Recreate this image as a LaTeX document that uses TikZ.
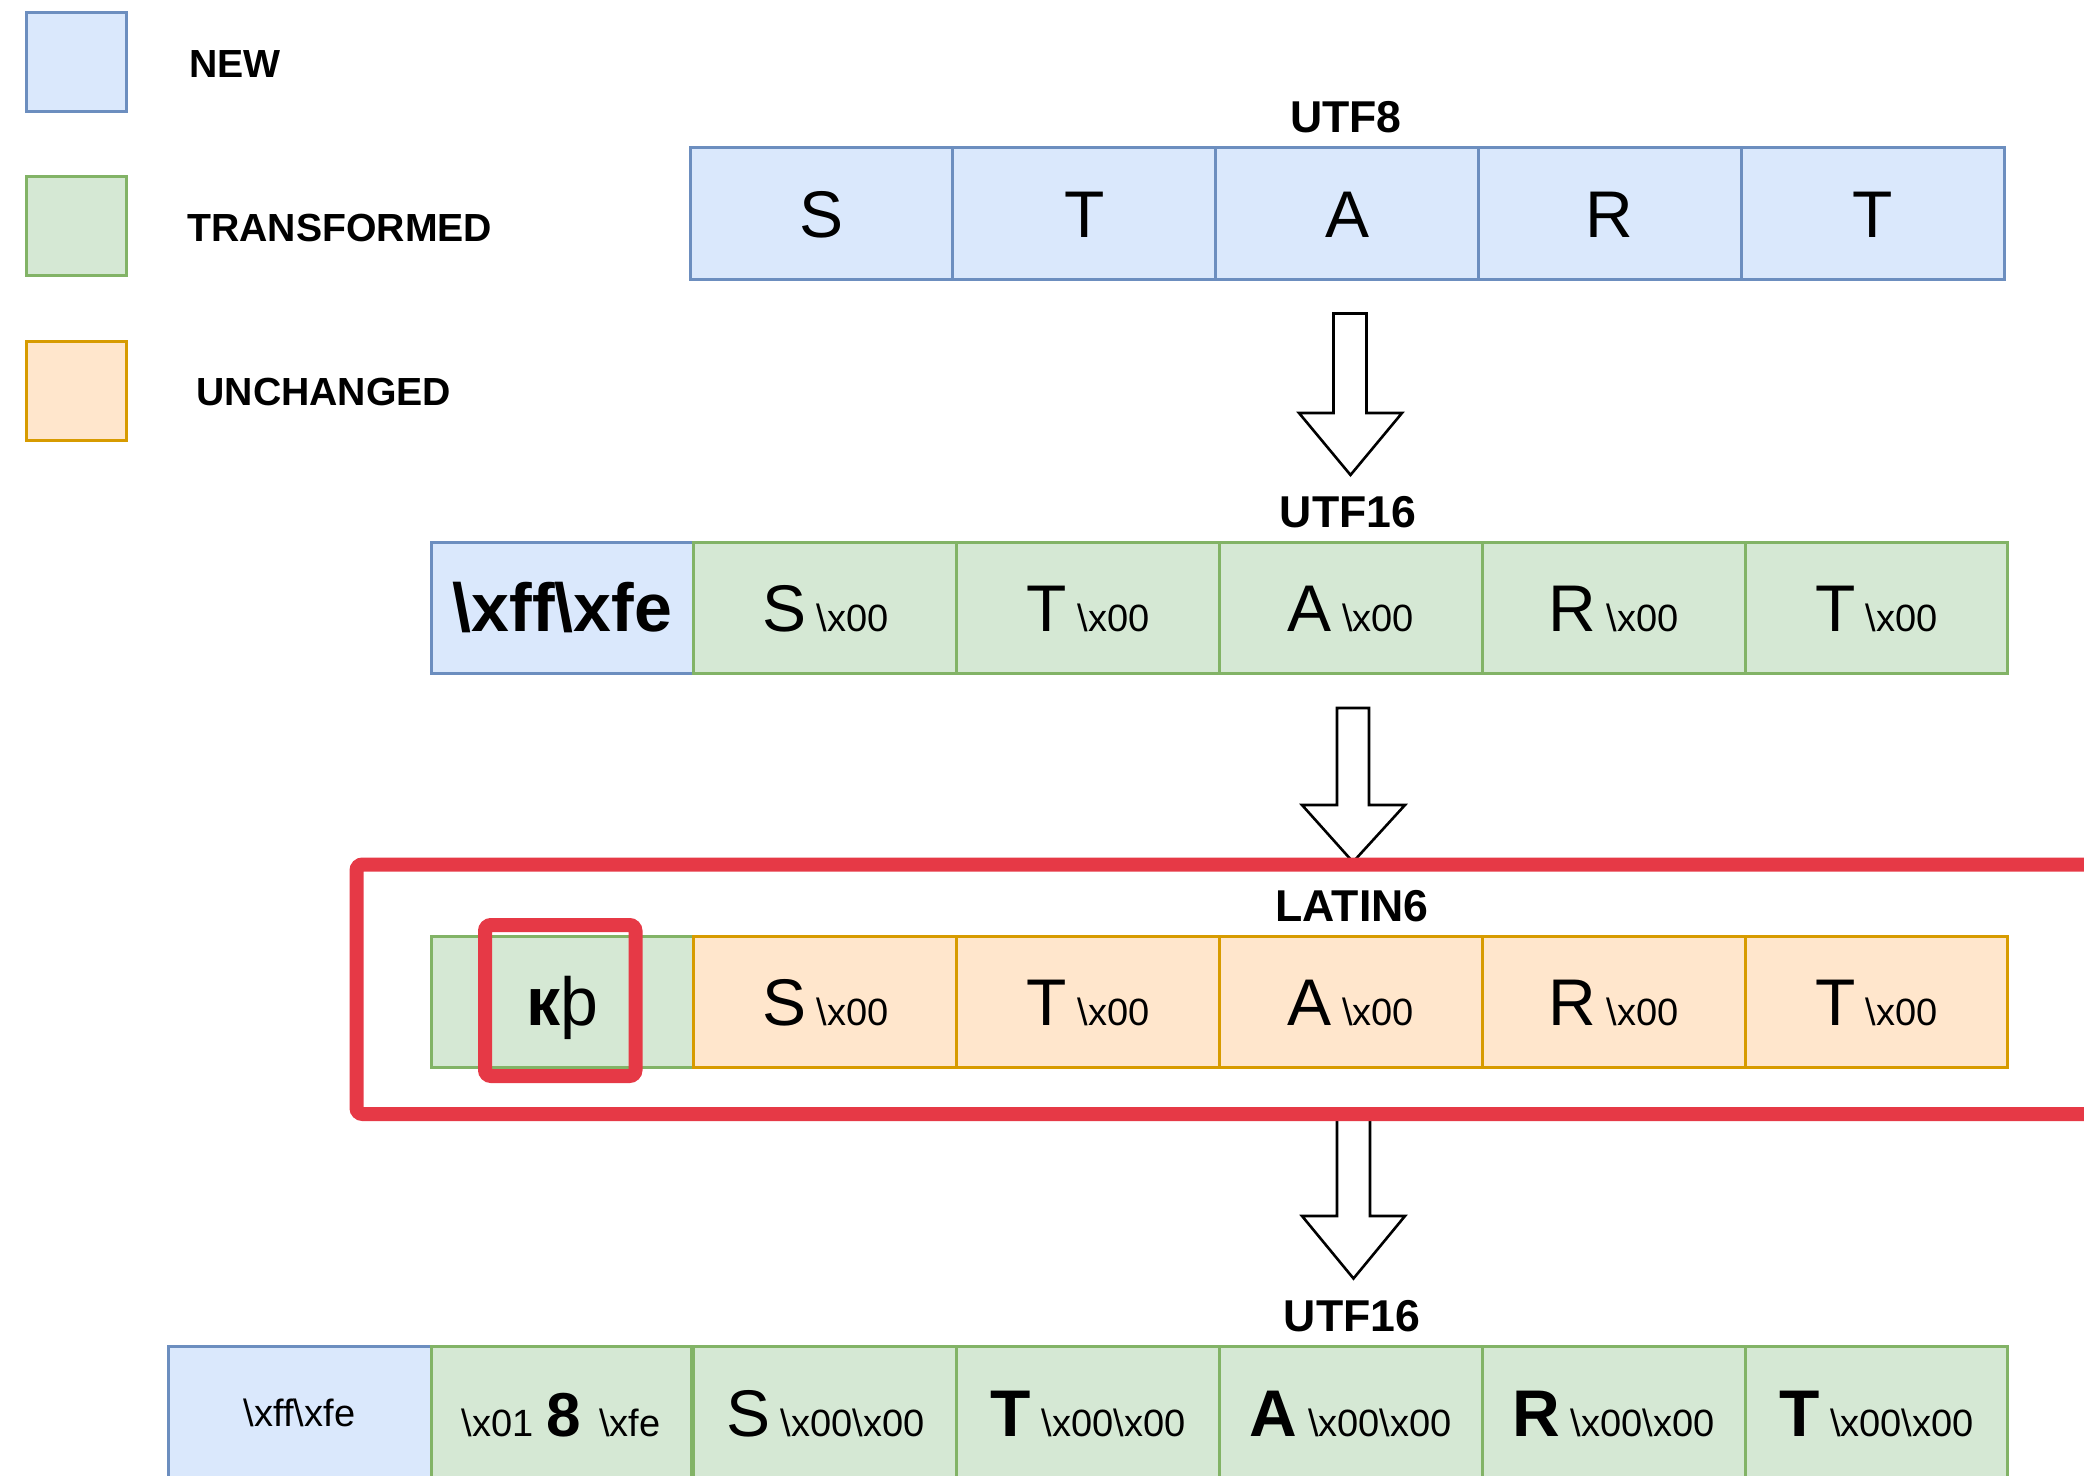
\documentclass[tikz,border=0pt]{standalone}
\usepackage{fontspec}
\setmainfont{Liberation Sans}
\definecolor{bstroke}{HTML}{6C8EBF}
\definecolor{bfill}{HTML}{DAE8FC}
\definecolor{gstroke}{HTML}{82B366}
\definecolor{gfill}{HTML}{D5E8D4}
\definecolor{ostroke}{HTML}{D79B00}
\definecolor{ofill}{HTML}{FFE6CC}
\definecolor{redc}{HTML}{E63946}
\newcommand\szBig{\fontsize{33}{36}\selectfont\mdseries}
\newcommand\szBigB{\fontsize{33}{36}\selectfont\bfseries}
\newcommand\szSm{\fontsize{19}{22}\selectfont\mdseries}
\newcommand\szHex{\fontsize{34}{38}\selectfont\bfseries}
\newcommand\szLab{\fontsize{22.3}{26}\selectfont\bfseries}
\newcommand\szLeg{\fontsize{19.6}{23}\selectfont\bfseries}
\newcommand\szEight{\fontsize{31}{34}\selectfont\bfseries}
\newcommand\bsx[1]{\textbackslash x#1}
\begin{document}
\begin{tikzpicture}[x=0.5pt,y=-0.5pt,
  cell/.style={draw, line width=1.5pt, minimum width=131.4pt, minimum height=65.8pt, inner sep=0pt, text height=23.6pt, text depth=0pt},
  newc/.style={cell, draw=bstroke, fill=bfill},
  trc/.style={cell, draw=gstroke, fill=gfill},
  unc/.style={cell, draw=ostroke, fill=ofill},
  legsq/.style={draw, line width=1.5pt, minimum width=50pt, minimum height=49.5pt, inner sep=0pt},
  legtxt/.style={anchor=base west, inner sep=0pt, font=\szLeg},
  rowlab/.style={anchor=base, inner sep=0pt, font=\szLab},
  blockarrow/.style={draw=black, line width=1.3pt, fill=white, line join=miter},
  redframe/.style={draw=redc, line width=7pt, rounded corners=3pt},
]
\useasboundingbox (0,0) rectangle (2084,1476);

% legend
\node[legsq, draw=bstroke, fill=bfill] (lnew) at (76.5,62.5) {};
\node[legsq, draw=gstroke, fill=gfill] (ltr) at (76.5,226.5) {};
\node[legsq, draw=ostroke, fill=ofill] (lun) at (76.5,391) {};
\node[legtxt] (tnew) at (189,77.7) {NEW};
\node[legtxt] (ttr) at (187,241.7) {TRANSFORMED};
\node[legtxt] (tun) at (196,406) {UNCHANGED};

% arrows
\draw[blockarrow] (1333.5,313.5) -- (1366.5,313.5) -- (1366.5,413) -- (1402,413) -- (1350.5,475) -- (1299,413) -- (1333.5,413) -- cycle;
\draw[blockarrow] (1337,708) -- (1369,708) -- (1369,805) -- (1405,805) -- (1353,862) -- (1302,805) -- (1337,805) -- cycle;
\draw[blockarrow] (1337,1114) -- (1370,1114) -- (1370,1216) -- (1405,1216) -- (1353.5,1278.5) -- (1302,1216) -- (1337,1216) -- cycle;

% UTF8 row
\node[rowlab] (lab8) at (1346,133) {UTF8};
\node[newc, font=\szBig] (a1) at (821.4,213.5) {S};
\node[newc, font=\szBig] (a2) at (1084.2,213.5) {T};
\node[newc, font=\szBig] (a3) at (1347,213.5) {A};
\node[newc, font=\szBig] (a4) at (1609.8,213.5) {R};
\node[newc, font=\szBig] (a5) at (1872.6,213.5) {T};

% UTF16 row
\node[rowlab] (lab16a) at (1348,528) {UTF16};
\node[newc, font=\szHex] (b0) at (562.4,608) {\bsx{ff}\bsx{fe}};
\node[trc] (b1) at (825.2,608) {\szBig S\szSm{} \bsx{00}};
\node[trc] (b2) at (1088,608) {\szBig T\szSm{} \bsx{00}};
\node[trc] (b3) at (1350.8,608) {\szBig A\szSm{} \bsx{00}};
\node[trc] (b4) at (1613.6,608) {\szBig R\szSm{} \bsx{00}};
\node[trc] (b5) at (1876.4,608) {\szBig T\szSm{} \bsx{00}};

% LATIN6 row
\node[rowlab] (lab6) at (1352,921.7) {LATIN6};
\node[trc, font=\fontsize{34}{38}\selectfont] (c0) at (562.4,1002) {{\bfseries к}þ};
\node[unc] (c1) at (825.2,1002) {\szBig S\szSm{} \bsx{00}};
\node[unc] (c2) at (1088,1002) {\szBig T\szSm{} \bsx{00}};
\node[unc] (c3) at (1350.8,1002) {\szBig A\szSm{} \bsx{00}};
\node[unc] (c4) at (1613.6,1002) {\szBig R\szSm{} \bsx{00}};
\node[unc] (c5) at (1876.4,1002) {\szBig T\szSm{} \bsx{00}};

% bottom UTF16 row
\node[rowlab] (lab16b) at (1352,1331.7) {UTF16};
\node[newc, font=\szSm, text height=13.9pt, minimum width=131.5pt] (d0) at (299.6,1412.5) {\bsx{ff}\bsx{fe}};
\node[trc, minimum width=130pt] (d1) at (561,1412.5) {\szSm\bsx{01}\hspace{6.5pt}\szEight 8\szSm\hspace{9pt}\bsx{fe}};
\node[trc] (d2) at (825.2,1412.5) {\szBig S\szSm{} \bsx{00}\bsx{00}};
\node[trc] (d3) at (1088,1412.5) {\szBigB T\szSm{} \bsx{00}\bsx{00}};
\node[trc] (d4) at (1350.8,1412.5) {\szBigB A\szSm{} \bsx{00}\bsx{00}};
\node[trc] (d5) at (1613.6,1412.5) {\szBigB R\szSm{} \bsx{00}\bsx{00}};
\node[trc] (d6) at (1876.4,1412.5) {\szBigB T\szSm{} \bsx{00}\bsx{00}};

% red highlight frames
\draw[redframe] (356.5,864.5) rectangle (2140,1114);
\draw[redframe] (485,925) rectangle (635.5,1076);
\end{tikzpicture}
\end{document}
